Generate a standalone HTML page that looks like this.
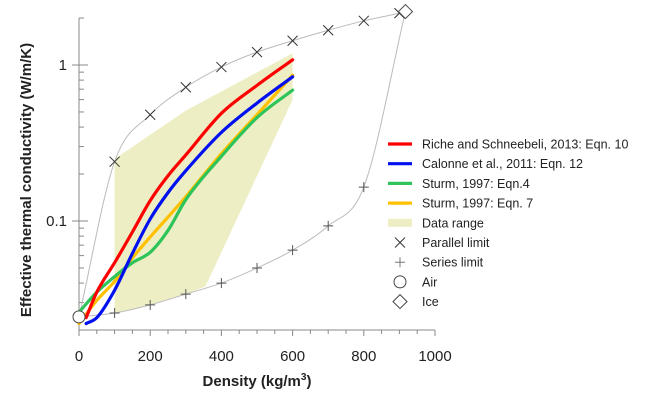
<!DOCTYPE html>
<html><head><meta charset="utf-8"><style>
body{margin:0;background:#fff;font-family:"Liberation Sans",Arial,sans-serif}
svg text{font-family:"Liberation Sans",Arial,sans-serif}
</style></head><body>
<svg id="chart" width="651" height="401" viewBox="0 0 651 401" xmlns="http://www.w3.org/2000/svg">
<g id="plot"></g>
<g id="legend"></g>
</svg>
<script>
const xTicks=[0,200,400,600,800,1000];
const yTicks=[0.1,1];
const yTickLabels=["0.1","1"];
const airPoint=[0,0.0243];
const icePoint=[917,2.2];
const parDens=[100,200,300,400,500,600,700,800,900];
const parVals=[0.24,0.48,0.72,0.97,1.21,1.43,1.67,1.92,2.15];
const serDens=[100,200,300,400,500,600,700,800];
const serVals=[0.0257,0.029,0.034,0.040,0.050,0.065,0.093,0.165];
const rangeDens=[100,100,300,600,600,355,300,200,100];
const rangeVals=[0.0257,0.25,0.51,1.19,0.6,0.038,0.034,0.029,0.0257];
const curveDens=[20,50,100,150,200,250,300,400,500,600];
const redVals=[0.024,0.035,0.054,0.085,0.135,0.195,0.265,0.49,0.74,1.08];
const blueVals=[0.022,0.024,0.036,0.062,0.103,0.152,0.21,0.37,0.57,0.84];
const greenDens=[0,50,100,150,200,250,300,400,500,600];
const greenVals=[0.026,0.035,0.044,0.054,0.063,0.087,0.137,0.26,0.46,0.69];
const orangeVals=[0.022,0.031,0.041,0.058,0.079,0.106,0.143,0.27,0.48,0.86];

const NS="http://www.w3.org/2000/svg";
const X=v=>79+v*0.356;
const Y=v=>65-Math.log10(v)*156;
const plot=document.getElementById('plot'),leg=document.getElementById('legend');
function el(t,a,p){const e=document.createElementNS(NS,t);for(const k in a)e.setAttribute(k,a[k]);(p||plot).appendChild(e);return e;}
function smooth(pts){
  const n=pts.length,d=[],m=[];
  for(let i=0;i<n-1;i++)d.push((pts[i+1][1]-pts[i][1])/(pts[i+1][0]-pts[i][0]));
  m[0]=d[0];m[n-1]=d[n-2];
  for(let i=1;i<n-1;i++){m[i]=d[i-1]*d[i]<=0?0:(d[i-1]+d[i])/2;}
  for(let i=0;i<n-1;i++){if(d[i]===0){m[i]=0;m[i+1]=0;continue;}const a=m[i]/d[i],b=m[i+1]/d[i],s=a*a+b*b;if(s>9){const t=3/Math.sqrt(s);m[i]=t*a*d[i];m[i+1]=t*b*d[i];}}
  let p=`M${pts[0][0]},${pts[0][1]}`;
  for(let i=0;i<n-1;i++){const h=(pts[i+1][0]-pts[i][0])/3;
    p+=`C${pts[i][0]+h},${pts[i][1]+m[i]*h} ${pts[i+1][0]-h},${pts[i+1][1]-m[i+1]*h} ${pts[i+1][0]},${pts[i+1][1]}`;}
  return p;}
let rp=rangeDens.map((d,i)=>X(d)+','+Y(rangeVals[i])).join(' ');
let poly=el('polygon',{points:rp,fill:'#eeeec4'});

let ax=el('line',{x1:79,y1:330,x2:435,y2:330,stroke:'#888','stroke-width':1});

let ay=el('line',{x1:79,y1:18,x2:79,y2:330,stroke:'#888','stroke-width':1});

for(let v=0;v<=1000;v+=50){const major=v%200===0;el('line',{x1:X(v),y1:330,x2:X(v),y2:major?336:334,stroke:'#888'});}
xTicks.forEach(v=>{const t=el('text',{x:X(v),y:361,'font-size':15,'text-anchor':'middle',fill:'#222'});t.textContent=v;
});
[0.02,0.03,0.04,0.05,0.06,0.07,0.08,0.09,0.2,0.3,0.4,0.5,0.6,0.7,0.8,0.9,2].forEach(v=>el('line',{x1:79,y1:Y(v),x2:84,y2:Y(v),stroke:'#888'}));
yTicks.forEach((v,i)=>{el('line',{x1:72,y1:Y(v),x2:88,y2:Y(v),stroke:'#888'});const t=el('text',{x:67,y:Y(v)+5,'font-size':15,'text-anchor':'end',fill:'#222'});t.textContent=yTickLabels[i];
});
let xt=el('text',{x:257,y:386,'font-size':15,'font-weight':'bold','text-anchor':'middle',fill:'#222'});
xt.innerHTML='Density (kg/m<tspan font-size="10" dy="-6">3</tspan><tspan dy="6">)</tspan>';

let yt=el('text',{x:0,y:0,'font-size':15,'font-weight':'bold','text-anchor':'middle',fill:'#222',transform:'translate(31,180) rotate(-90)'});
yt.textContent='Effective  thermal  conductivity (W/m/K)';

const parPts=[[X(airPoint[0]),Y(airPoint[1])]].concat(parDens.map((d,i)=>[X(d),Y(parVals[i])]),[[X(icePoint[0]),Y(icePoint[1])]]);
let pl=el('path',{d:smooth(parPts),fill:'none',stroke:'#bbb','stroke-width':1});

const serPts=[[X(airPoint[0]),Y(airPoint[1])]].concat(serDens.map((d,i)=>[X(d),Y(serVals[i])]),[[X(icePoint[0]),Y(icePoint[1])]]);
let sl=el('path',{d:smooth(serPts),fill:'none',stroke:'#bbb','stroke-width':1});

parDens.forEach((d,i)=>{const x=X(d),y=Y(parVals[i]);const m=el('path',{d:`M${x-5},${y-5}L${x+5},${y+5}M${x-5},${y+5}L${x+5},${y-5}`,stroke:'#333','stroke-width':1});
});
serDens.forEach((d,i)=>{const x=X(d),y=Y(serVals[i]);const m=el('path',{d:`M${x-5},${y}L${x+5},${y}M${x},${y-5}L${x},${y+5}`,stroke:'#555','stroke-width':1});
});
function curve(ds,vs,c,name){const p=el('path',{d:smooth(ds.map((d,i)=>[X(d),Y(vs[i])])),fill:'none',stroke:c,'stroke-width':3.2,'stroke-linecap':'round'});
}
curve(greenDens,orangeVals,'#ffc000','sturm-eqn7-line');
curve(greenDens,greenVals,'#2ec45a','sturm-eqn4-line');
curve(curveDens,blueVals,'#0010ee','calonne-line');
curve(curveDens,redVals,'#ff0000','riche-line');
let air=el('circle',{cx:X(airPoint[0]),cy:Y(airPoint[1]),r:6,fill:'#fff',stroke:'#444'});

let ix=X(icePoint[0]),iy=Y(icePoint[1]);
let ice=el('path',{d:`M${ix},${iy-7}L${ix+7},${iy}L${ix},${iy+7}L${ix-7},${iy}Z`,fill:'#fff',stroke:'#444'});

const legLabels=["Riche and Schneebeli, 2013: Eqn. 10","Calonne et al., 2011: Eqn. 12","Sturm, 1997: Eqn.4","Sturm, 1997: Eqn. 7","Data  range","Parallel  limit","Series limit","Air","Ice"];
const legColors=['#ff0000','#0010ee','#2ec45a','#ffc000'];
legLabels.forEach((s,i)=>{const y=144+i*19.7;const g=el('g',{},leg);

if(i<4)el('line',{x1:388,y1:y,x2:412,y2:y,stroke:legColors[i],'stroke-width':3.2},g);
else if(i==4)el('rect',{x:388,y:y-4,width:24,height:8,fill:'#eeeec4'},g);
else if(i==5)el('path',{d:`M395,${y-5}L405,${y+5}M395,${y+5}L405,${y-5}`,stroke:'#333'},g);
else if(i==6)el('path',{d:`M395,${y}L405,${y}M400,${y-5}L400,${y+5}`,stroke:'#777'},g);
else if(i==7)el('circle',{cx:400,cy:y,r:6,fill:'#fff',stroke:'#444'},g);
else el('path',{d:`M400,${y-7}L407,${y}L400,${y+7}L393,${y}Z`,fill:'#fff',stroke:'#444'},g);
const t=el('text',{x:422,y:y+4.5,'font-size':12.5,fill:'#222'},g);t.textContent=s;});
</script>
</body></html>
